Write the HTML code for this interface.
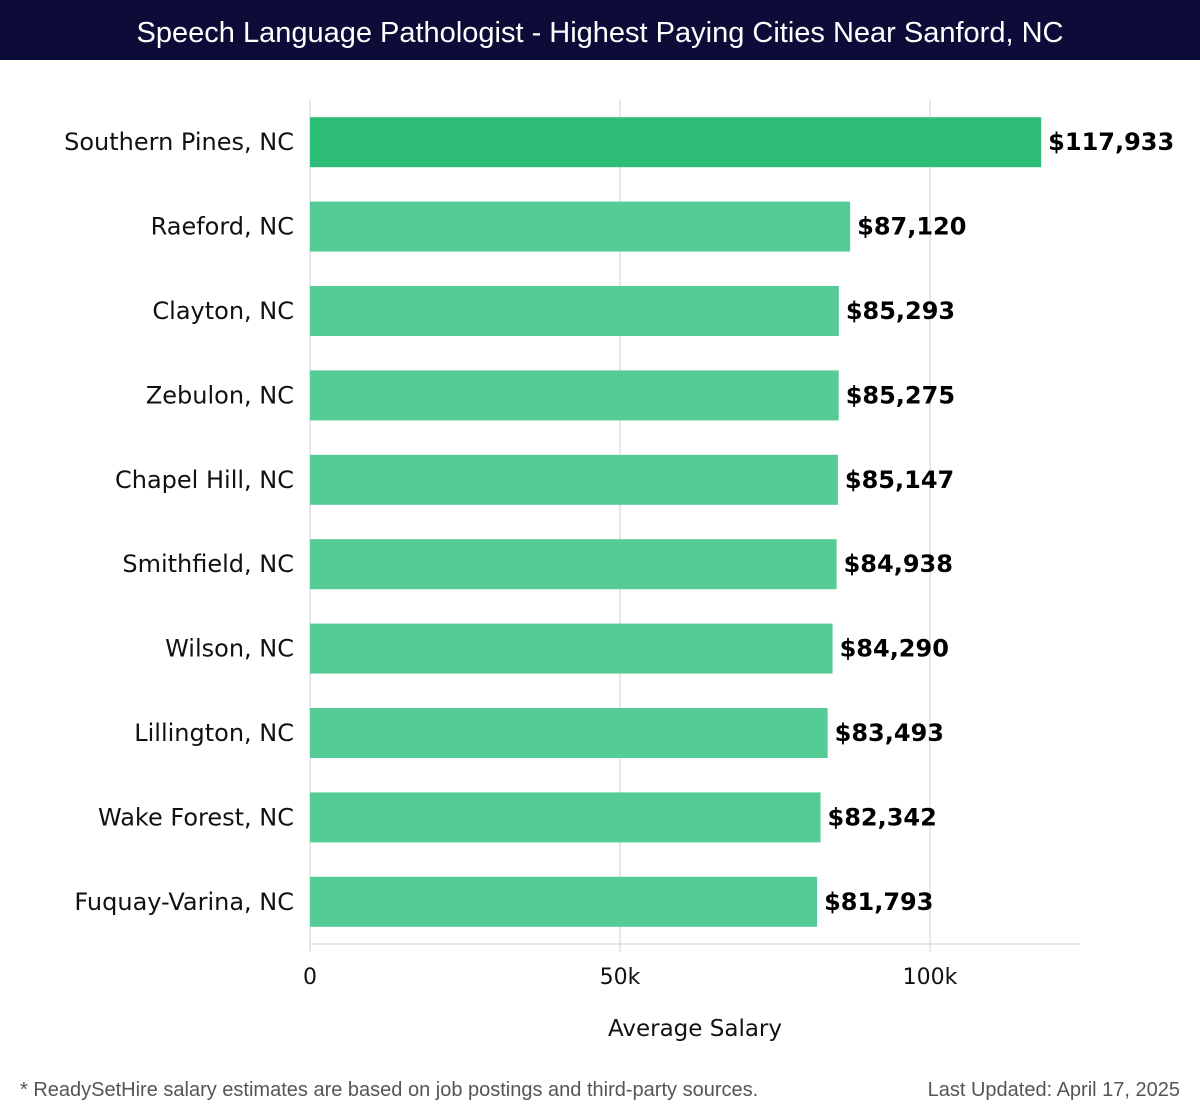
<!DOCTYPE html>
<html><head><meta charset="utf-8"><style>
body{margin:0;width:1200px;height:1120px;background:#fff;font-family:"DejaVu Sans","Liberation Sans",sans-serif;position:relative;overflow:hidden}
#title{position:absolute;left:0;top:0;width:1200px;height:60px;background:#0d0c38;color:#fff;font-family:"Liberation Sans",sans-serif;font-size:29px;line-height:66px;text-align:center}
.foot{position:absolute;top:1079px;font-family:"Liberation Sans",sans-serif;font-size:20px;color:#555}
</style></head><body>
<div id="title">Speech Language Pathologist - Highest Paying Cities Near Sanford, NC</div>
<svg id="chart" width="1200" height="1120" style="position:absolute;left:0;top:0"></svg>
<div class="foot" style="left:20px">* ReadySetHire salary estimates are based on job postings and third-party sources.</div>
<div class="foot" style="right:20px">Last Updated: April 17, 2025</div>
<script>
const cities=["Southern Pines, NC","Raeford, NC","Clayton, NC","Zebulon, NC","Chapel Hill, NC","Smithfield, NC","Wilson, NC","Lillington, NC","Wake Forest, NC","Fuquay-Varina, NC"];
const salaries=[117933,87120,85293,85275,85147,84938,84290,83493,82342,81793];
const ticks=[0,50000,100000];
const tickLabels=["0","50k","100k"];
const NS="http://www.w3.org/2000/svg";
const svg=document.getElementById('chart');
const x0=310,pxPer=620/100000,top0=100,pitch=84.4,barH=50;
const xs=v=>x0+v*pxPer;
const yc=i=>top0+pitch*i+pitch/2;
function mk(t,a){const e=document.createElementNS(NS,t);for(const k in a)e.setAttribute(k,a[k]);svg.appendChild(e);return e;}
ticks.forEach((t,i)=>{
 const g=mk('line',{x1:xs(t),x2:xs(t),y1:100,y2:952,stroke:'#e0e0e0','stroke-width':1.5});
 
 
 const l=mk('text',{x:xs(t),y:984,'text-anchor':'middle','font-size':22,fill:'#111'});
 l.textContent=tickLabels[i];
 
 
});
const ax=mk('line',{x1:310,x2:1080,y1:944,y2:944,stroke:'#ddd','stroke-width':1.5});


cities.forEach((c,i)=>{
 const y=yc(i);
 const r=mk('rect',{x:x0,y:y-barH/2,width:xs(salaries[i])-x0,height:barH,fill:i==0?'#2dbd78':'#55cb95'});
 
 
 const l=mk('text',{x:294,y:y+8,'text-anchor':'end','font-size':24,fill:'#111'});
 l.textContent=c;
 
 
 const v=mk('text',{x:xs(salaries[i])+7,y:y+8,'font-size':24,'font-weight':'bold',fill:'#000'});
 v.textContent='$'+salaries[i].toLocaleString('en-US');
 
 
});
const t=mk('text',{x:695,y:1036,'text-anchor':'middle','font-size':23,fill:'#111'});
t.textContent='Average Salary';


</script>
</body></html>
